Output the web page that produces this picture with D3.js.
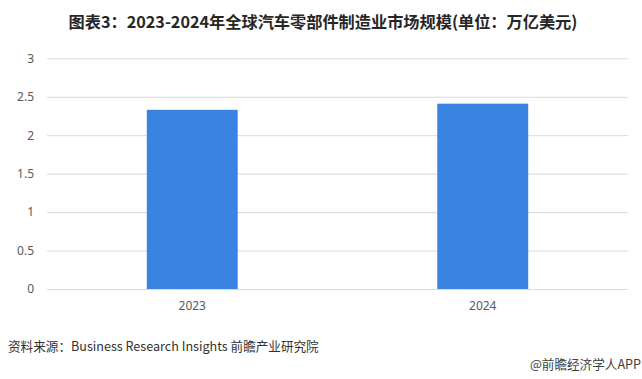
<!DOCTYPE html>
<html><head><meta charset="utf-8">
<script src="https://cdn.jsdelivr.net/npm/d3@7/dist/d3.min.js"></script>
<style>body{margin:0;background:#fff}svg{display:block}text{font-family:"Noto Sans CJK SC","Microsoft YaHei",sans-serif}</style>
</head><body><svg id="c" width="642" height="379"></svg>
<script>
const categories = ["2023", "2024"];
const values = [2.33, 2.41];
const yTicks = [0, 0.5, 1, 1.5, 2, 2.5, 3];
const title = "图表3：2023-2024年全球汽车零部件制造业市场规模(单位：万亿美元)";
const source = "资料来源：Business Research Insights 前瞻产业研究院";
const credit = "@前瞻经济学人APP";

const svg = d3.select("#c");
const x = d3.scaleBand().domain(categories).range([47, 628]).paddingInner(0).paddingOuter(0);
const y = d3.scaleLinear().domain([0, 3]).range([289, 58.3]);
const barW = x.bandwidth() * 0.313;

svg.append("text").attr("x", 323).attr("y", 28).attr("text-anchor", "middle")
  .attr("font-size", 16.2).attr("font-weight", "bold").attr("fill", "#262626").text(title);

const yAxis = svg.append("g").attr("transform", "translate(47,0)")
  .call(d3.axisLeft(y).tickValues(yTicks).tickSize(-581).tickFormat(d3.format("~g")).tickPadding(13));
yAxis.select(".domain").remove();
yAxis.selectAll(".tick line").attr("stroke", "#d9d9d9");
yAxis.selectAll(".tick text").attr("font-size", 12).attr("fill", "#595959")
  .style("font-family", "'Noto Sans','DejaVu Sans',sans-serif");

svg.selectAll("rect.bar").data(values).enter().append("rect").attr("class", "bar")
  .attr("x", (d, i) => x(categories[i]) + x.bandwidth() / 2 - barW / 2)
  .attr("y", d => y(d)).attr("width", barW).attr("height", d => y(0) - y(d))
  .attr("fill", "#3a83e0");

const xAxis = svg.append("g").attr("transform", "translate(0,289)")
  .call(d3.axisBottom(x).tickSize(0).tickPadding(12));
xAxis.select(".domain").remove();
xAxis.selectAll(".tick text").attr("font-size", 12).attr("fill", "#595959")
  .style("font-family", "'Noto Sans','DejaVu Sans',sans-serif");

svg.append("text").attr("x", 8).attr("y", 351).attr("font-size", 12.6).attr("fill", "#333").text(source);
svg.append("text").attr("x", 641).attr("y", 369).attr("text-anchor", "end").attr("font-size", 12.6).attr("fill", "#404040").text(credit);
</script></body></html>
